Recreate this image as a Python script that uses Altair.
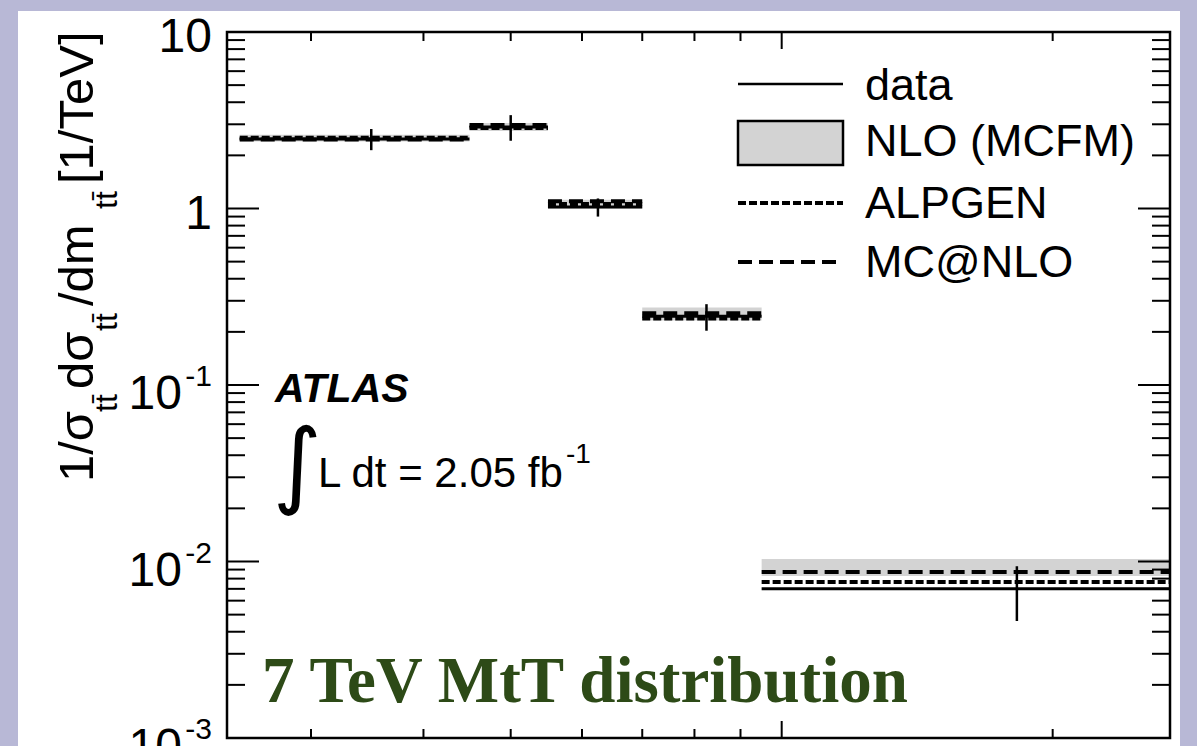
import altair as alt
import pandas as pd

# m_tt bins in GeV and normalised differential cross sections [1/TeV]
bin_lo = [250, 450, 550, 700, 950]
bin_hi = [450, 550, 700, 950, 2700]
bin_center = [350, 500, 625, 825, 1825]
data_val = [2.48, 2.90, 1.02, 0.245, 0.0070]
data_err = [0.34, 0.48, 0.12, 0.042, 0.0024]
alpgen_val = [2.52, 2.86, 1.06, 0.238, 0.00766]
mcnlo_val = [2.46, 2.97, 1.10, 0.255, 0.00873]
nlo_lo = [2.40, 2.75, 1.00, 0.232, 0.00828]
nlo_hi = [2.62, 3.05, 1.12, 0.275, 0.01033]

# axis ticks
x_minor_ticks = [300, 400, 500, 600, 700, 800, 900, 2000]
x_major_ticks = [1000]
y_minor_ticks = [m * 10.0 ** k for k in range(-3, 1) for m in range(2, 10)]
y_major_ticks = [0.01, 0.1, 1]
y_plain_labels = ["10", "1"]
y_plain_values = [10, 1]
y_exp_labels = ["-1", "-2", "-3"]
y_exp_values = [0.1, 0.01, 0.001]

legend_labels = ["data", "NLO (MCFM)", "ALPGEN", "MC@NLO"]

W, H = 943, 706
SANS = "Liberation Sans"
GREY = "#d3d3d3"

bins = pd.DataFrame({
    "lo": bin_lo, "hi": bin_hi, "center": bin_center,
    "data": data_val, "err": data_err,
    "alpgen": alpgen_val, "mcnlo": mcnlo_val,
    "nlo_lo": nlo_lo, "nlo_hi": nlo_hi,
})
one = pd.DataFrame({"k": [0]})

XS = alt.Scale(type="log", domain=[242, 2700], nice=False)
YS = alt.Scale(type="log", domain=[0.001, 10], nice=False)


def X(field):
    return alt.X(f"{field}:Q", scale=XS, axis=None)


def Y(field):
    return alt.Y(f"{field}:Q", scale=YS, axis=None)


def txt(text, x, y, size, **kw):
    opts = dict(align="left", baseline="alphabetic", font=SANS, color="black")
    opts.update(kw)
    return alt.Chart(one).mark_text(text=text, fontSize=size, **opts).encode(
        x=alt.value(x), y=alt.value(y))


base = alt.Chart(bins)

# white panel behind the figure
panel = alt.Chart(one).mark_rect(color="white").encode(
    x=alt.value(-209), x2=alt.value(953), y=alt.value(-21), y2=alt.value(730))

band = base.mark_rect(color=GREY).encode(
    x=X("lo"), x2="hi", y=Y("nlo_lo"), y2="nlo_hi")
alpgen = base.mark_rule(color="black", strokeWidth=4, strokeDash=[8, 3]).encode(
    x=X("lo"), x2="hi", y=Y("alpgen"))
mcnlo = base.mark_rule(color="black", strokeWidth=4, strokeDash=[14, 7]).encode(
    x=X("lo"), x2="hi", y=Y("mcnlo"))
data_line = base.mark_rule(color="black", strokeWidth=3).encode(
    x=X("lo"), x2="hi", y=Y("data"))
err_bar = base.transform_calculate(
    ylo="datum.data - datum.err", yhi="datum.data + datum.err"
).mark_rule(color="black", strokeWidth=2.5).encode(
    x=X("center"), y=Y("ylo"), y2="yhi")

# tick marks drawn inward on all four sides
xt_min = alt.Chart(pd.DataFrame({"v": x_minor_ticks}))
xt_maj = alt.Chart(pd.DataFrame({"v": x_major_ticks}))
yt_min = alt.Chart(pd.DataFrame({"v": y_minor_ticks}))
yt_maj = alt.Chart(pd.DataFrame({"v": y_major_ticks}))
tick = dict(color="black", strokeWidth=2)
ticks = [
    xt_min.mark_rule(**tick).encode(x=X("v"), y=alt.value(0), y2=alt.value(9)),
    xt_min.mark_rule(**tick).encode(x=X("v"), y=alt.value(H), y2=alt.value(H - 9)),
    xt_maj.mark_rule(**tick).encode(x=X("v"), y=alt.value(0), y2=alt.value(17)),
    xt_maj.mark_rule(**tick).encode(x=X("v"), y=alt.value(H), y2=alt.value(H - 17)),
    yt_min.mark_rule(**tick).encode(y=Y("v"), x=alt.value(0), x2=alt.value(18)),
    yt_min.mark_rule(**tick).encode(y=Y("v"), x=alt.value(W), x2=alt.value(W - 18)),
    yt_maj.mark_rule(**tick).encode(y=Y("v"), x=alt.value(0), x2=alt.value(32)),
    yt_maj.mark_rule(**tick).encode(y=Y("v"), x=alt.value(W), x2=alt.value(W - 32)),
]

# y tick labels with superscript exponents
plain = alt.Chart(pd.DataFrame({"v": y_plain_values, "lab": y_plain_labels})).mark_text(
    align="right", baseline="alphabetic", font=SANS, fontSize=48, dy=20, color="black"
).encode(y=Y("v"), x=alt.value(-15), text="lab:N")
exp_df = pd.DataFrame({"v": y_exp_values, "lab": y_exp_labels})
exp_base = alt.Chart(exp_df).mark_text(
    text="10", align="right", baseline="alphabetic", font=SANS, fontSize=48, dy=24,
    color="black"
).encode(y=Y("v"), x=alt.value(-45))
exp_sup = alt.Chart(exp_df).mark_text(
    align="right", baseline="alphabetic", font=SANS, fontSize=30, dy=1, color="black"
).encode(y=Y("v"), x=alt.value(-15), text="lab:N")

# rotated y-axis title with subscripts
TT = "tt\u0304"
title = [
    txt("1/\u03c3", -134, 450, 49, angle=270),
    txt(TT, -110, 380, 32, angle=270),
    txt("d\u03c3", -134, 357, 49, angle=270),
    txt(TT, -110, 299, 32, angle=270),
    txt("/dm", -134, 274, 49, angle=270),
    txt(TT, -110, 177, 32, angle=270),
    txt("[1/TeV]", -134, 152, 49, angle=270),
]

# legend
legend = [
    alt.Chart(one).mark_rule(color="black", strokeWidth=2.5).encode(
        x=alt.value(511), x2=alt.value(616), y=alt.value(52)),
    alt.Chart(one).mark_rect(color=GREY, stroke="black", strokeWidth=2.5).encode(
        x=alt.value(511), x2=alt.value(616), y=alt.value(89), y2=alt.value(133)),
    alt.Chart(one).mark_rule(color="black", strokeWidth=4, strokeDash=[8, 3]).encode(
        x=alt.value(511), x2=alt.value(616), y=alt.value(171)),
    alt.Chart(one).mark_rule(color="black", strokeWidth=4, strokeDash=[14, 7]).encode(
        x=alt.value(511), x2=alt.value(616), y=alt.value(230)),
]
for lab, yb in zip(legend_labels, [68, 124, 186, 245]):
    legend.append(txt(lab, 638, yb, 45))

notes = [
    txt("ATLAS", 48, 370, 41, fontStyle="italic", fontWeight="bold"),
    txt("\u222b", 46, 464, 94, font="DejaVu Sans"),
    txt("L dt = 2.05 fb", 91, 455, 42),
    txt("-1", 339, 431, 28),
    txt("7 TeV MtT distribution", 35, 670, 65, font="Liberation Serif",
        fontWeight="bold", color="#2d4a17"),
]

frame = alt.Chart(one).mark_rect(fillOpacity=0, stroke="black", strokeWidth=2.5).encode(
    x=alt.value(0), x2=alt.value(W), y=alt.value(0), y2=alt.value(H))

chart = alt.layer(
    panel, band, alpgen, mcnlo, data_line, err_bar, *ticks,
    plain, exp_base, exp_sup, *title, *legend, *notes, frame,
).properties(
    width=W, height=H,
    autosize=alt.AutoSizeParams(type="none"),
    padding={"left": 227, "top": 32, "right": 27, "bottom": 8},
    background="#b8b8d6",
).configure_view(strokeWidth=0)

chart.save("out.html", embed_options={"renderer": "svg", "actions": False})
